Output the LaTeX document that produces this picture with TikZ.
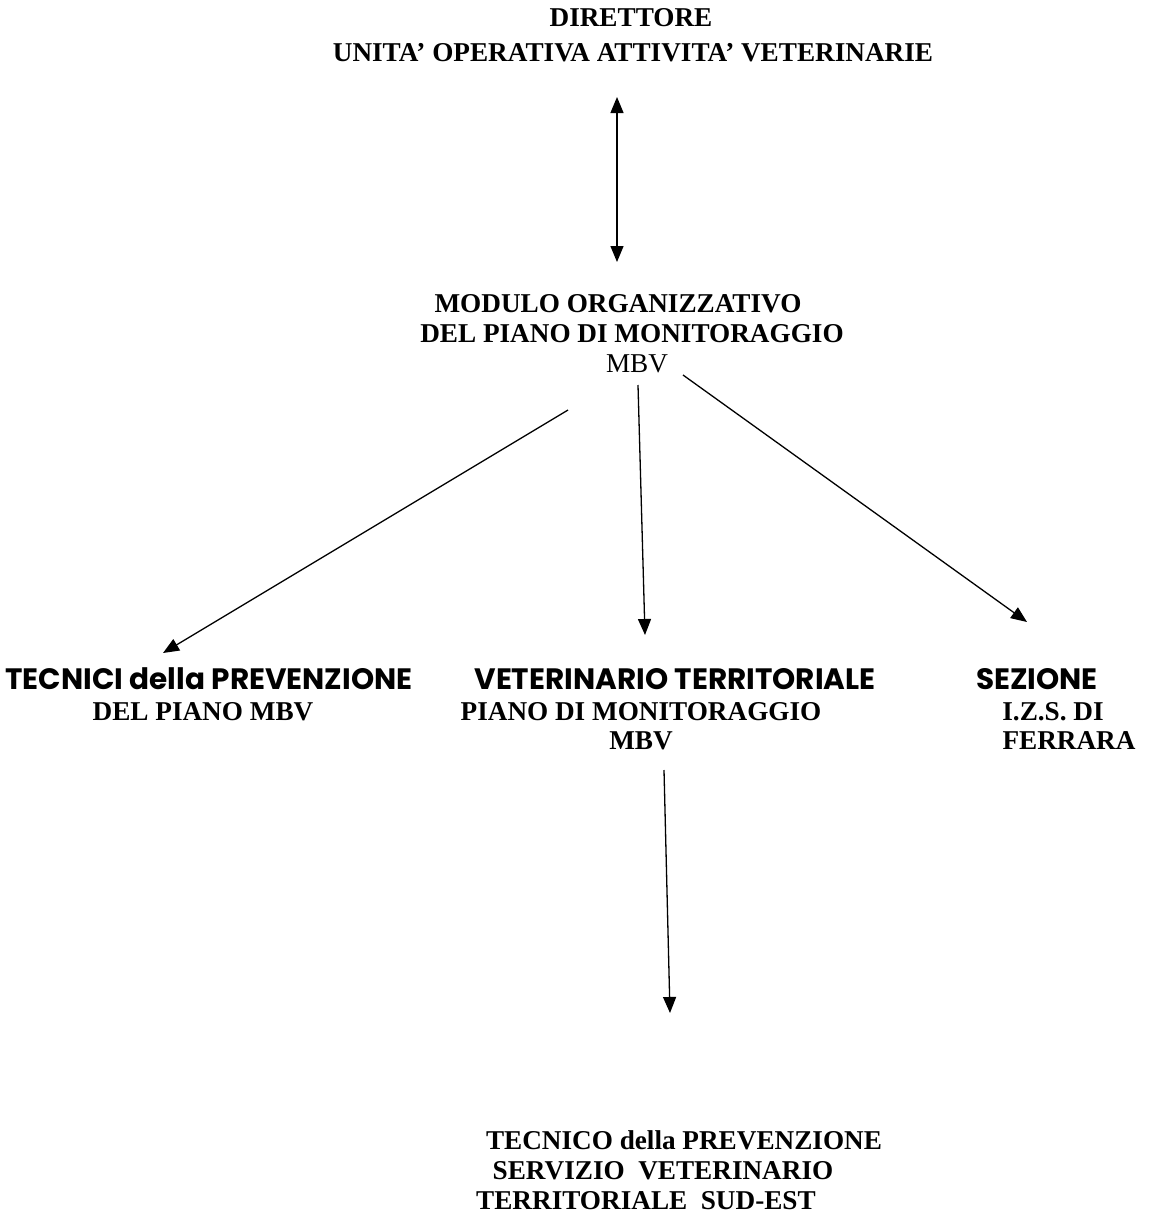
\documentclass[tikz,border=0pt]{standalone}
\usepackage{fontspec}
\setmainfont{Liberation Serif}
\newfontfamily\comicf{Poppins}
\usetikzlibrary{arrows.meta}
\begin{document}
\begin{tikzpicture}[x=1pt,y=-1pt,
  tb/.style={inner sep=0pt,anchor=base,font=\fontsize{27.2}{30}\selectfont\bfseries},
  tr/.style={inner sep=0pt,anchor=base,font=\fontsize{27.2}{30}\selectfont},
  tc/.style={inner sep=0pt,anchor=base,font=\fontsize{29.5}{32}\selectfont\comicf\bfseries},
  arr/.style={line width=1.3pt,-{Triangle[length=16pt,width=13pt]}},
  darr/.style={line width=1.3pt,{Triangle[length=16pt,width=13pt]}-{Triangle[length=16pt,width=13pt]}}]
\useasboundingbox (0,0) rectangle (1156,1213);
% top
\node[tb] (dir1) at (631,26) {DIRETTORE};
\node[tb] (dir2) at (633,61) {UNITA’ OPERATIVA ATTIVITA’ VETERINARIE};
% module
\node[tb] (mod1) at (618,312) {MODULO ORGANIZZATIVO};
\node[tb] (mod2) at (632,342) {DEL PIANO DI MONITORAGGIO};
\node[tr] (mod3) at (637,372) {MBV};
% left
\node[tc] (tec1) at (209,689) {TECNICI della PREVENZIONE};
\node[tb] (tec2) at (203,720) {DEL PIANO MBV};
% middle
\node[tc] (vet1) at (675,689) {VETERINARIO TERRITORIALE};
\node[tb] (vet2) at (641,720) {PIANO DI MONITORAGGIO};
\node[tb] (vet3) at (641,749) {MBV};
% right
\node[tc] (sez1) at (1037,689) {SEZIONE};
\node[tb] (sez2) at (1053,720) {I.Z.S. DI};
\node[tb] (sez3) at (1069,749) {FERRARA};
% bottom
\node[tb] (bot1) at (684,1149) {TECNICO della PREVENZIONE};
\node[tb] (bot2) at (663,1179) {SERVIZIO\ \ VETERINARIO};
\node[tb] (bot3) at (646,1209) {TERRITORIALE\ \ SUD-EST};
% connector coordinates
\coordinate (d0) at (617,97);
\coordinate (d1) at (617,262);
\coordinate (a1s) at (568,410);
\coordinate (a1e) at (163,653);
\coordinate (a2s) at (638,385);
\coordinate (a2e) at (645,635);
\coordinate (a3s) at (683,375);
\coordinate (a3e) at (1027,622);
\coordinate (a4s) at (664,770);
\coordinate (a4e) at (670,1013);
\draw[darr] (d0) -- (d1);
\draw[arr] (a1s) -- (a1e);
\draw[arr] (a2s) -- (a2e);
\draw[arr] (a3s) -- (a3e);
\draw[arr] (a4s) -- (a4e);
\end{tikzpicture}
\end{document}
